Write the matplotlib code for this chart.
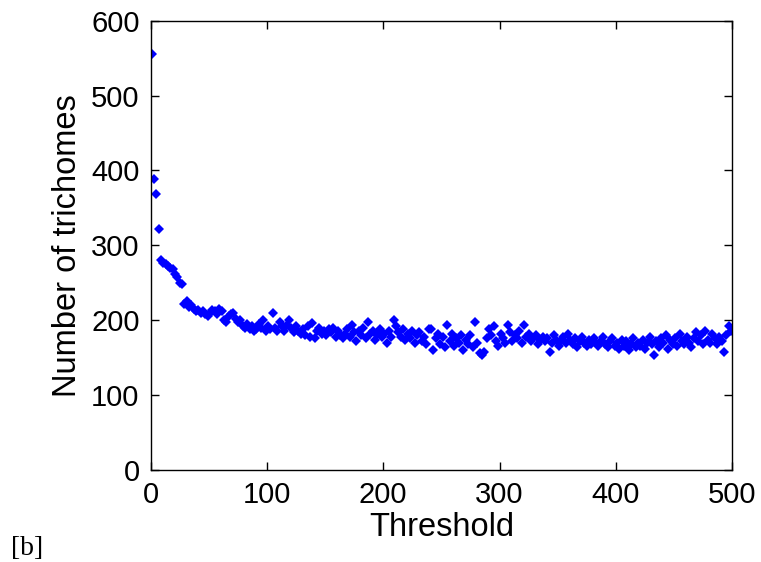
"""Trichome count as a function of detection threshold."""

import matplotlib
matplotlib.use("Agg")
import matplotlib.pyplot as plt
import numpy as np

plt.rcParams["font.family"] = ["Liberation Sans Narrow", "Liberation Sans", "DejaVu Sans"]

threshold = np.arange(1, 500, 2)

trichome_count = [
    556, 388, 368, 322, 280,
    277, 275, 272, 270, 268,
    262, 258, 250, 248, 222,
    225, 218, 220, 215, 212,
    214, 210, 212, 208, 205,
    210, 214, 212, 208, 215,
    212, 200, 198, 205, 208,
    210, 202, 198, 200, 192,
    190, 195, 188, 192, 186,
    188, 195, 190, 200, 186,
    192, 188, 209, 190, 185,
    198, 192, 186, 194, 200,
    190, 184, 192, 186, 182,
    188, 180, 192, 178, 196,
    176, 185, 190, 182, 186,
    180, 188, 184, 190, 178,
    185, 180, 176, 182, 188,
    178, 194, 184, 172, 186,
    180, 190, 176, 198, 182,
    186, 174, 180, 188, 178,
    182, 170, 186, 178, 200,
    192, 184, 178, 188, 174,
    182, 176, 186, 170, 180,
    184, 172, 178, 168, 188,
    188, 160, 176, 182, 168,
    178, 164, 194, 172, 182,
    166, 176, 170, 180, 160,
    174, 168, 180, 164, 198,
    170, 156, 154, 158, 176,
    188, 180, 192, 172, 166,
    182, 176, 170, 194, 184,
    172, 180, 176, 186, 170,
    194, 178, 182, 172, 176,
    180, 168, 174, 178, 172,
    176, 158, 170, 180, 174,
    166, 172, 178, 170, 182,
    174, 168, 176, 164, 172,
    178, 170, 166, 174, 168,
    176, 170, 166, 172, 178,
    168, 164, 172, 176, 166,
    170, 162, 174, 166, 172,
    160, 168, 176, 164, 170,
    166, 174, 162, 170, 178,
    168, 154, 172, 164, 176,
    170, 180, 162, 174, 168,
    176, 166, 182, 172, 168,
    178, 170, 164, 176, 184,
    172, 180, 168, 186, 174,
    170, 182, 176, 168, 178,
    172, 158, 180, 192, 186,
]

fig = plt.figure(figsize=(7.61, 5.62), dpi=100)
ax = fig.add_axes([0.198, 0.164, 0.764, 0.799])

ax.plot(threshold, trichome_count, linestyle="none", marker="D",
        markersize=5, color="#0000ff", markeredgewidth=0)

ax.set_xlim(0, 500)
ax.set_ylim(0, 600)
ax.set_xticks([0, 100, 200, 300, 400, 500])
ax.set_yticks([0, 100, 200, 300, 400, 500, 600])
ax.tick_params(direction="in", length=6, width=1, labelsize=21,
               top=True, right=True, pad=8)
for spine in ax.spines.values():
    spine.set_linewidth(1)

ax.set_xlabel("Threshold", fontsize=23.5, labelpad=2)
ax.set_ylabel("Number of trichomes", fontsize=23.5, labelpad=6)

fig.text(0.014, 0.012, "[b]", fontsize=20, family=["Liberation Serif", "DejaVu Serif"])

fig.savefig("out.png", dpi=100)
